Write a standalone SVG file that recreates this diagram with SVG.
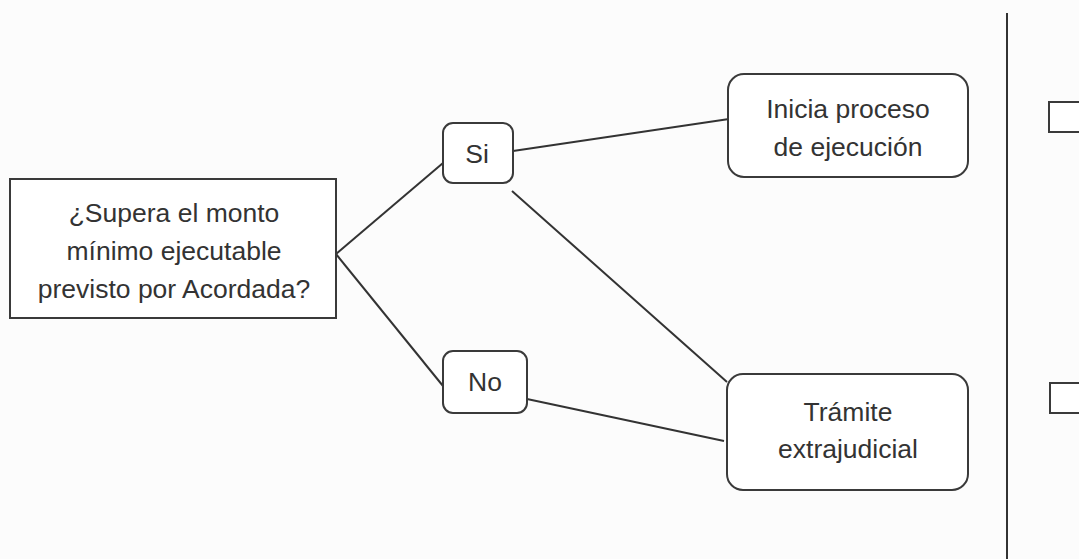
<svg xmlns="http://www.w3.org/2000/svg" width="1079" height="559" viewBox="0 0 1079 559">
<style>
.box{fill:#fff;stroke:#3a3a3a;stroke-width:2}
.ln{stroke:#333;stroke-width:2;fill:none}
.t{font-family:"Liberation Sans",Arial,sans-serif;fill:#333;text-anchor:middle}
.big{font-size:26.5px}
</style>
<rect width="1079" height="559" fill="#fcfcfc"/>
<g id="connectors">
<line class="ln" x1="336" y1="254" x2="443" y2="163"/>
<line class="ln" x1="336" y1="254" x2="443" y2="386"/>
<line class="ln" x1="513" y1="151" x2="729" y2="119"/>
<line class="ln" x1="512" y1="191" x2="727" y2="382"/>
<line class="ln" x1="527" y1="399" x2="724" y2="441"/>
</g>
<g id="n-pregunta">
<rect class="box" x="10" y="179" width="326" height="139"/>
<text class="t big" x="174" y="222">¿Supera el monto</text>
<text class="t big" x="174" y="260">mínimo ejecutable</text>
<text class="t big" x="174" y="298">previsto por Acordada?</text>
</g>
<g id="n-si">
<rect class="box" x="443" y="123" width="70" height="60" rx="10"/>
<text class="t big" x="477" y="163">Si</text>
</g>
<g id="n-no">
<rect class="box" x="443" y="351" width="84" height="62" rx="10"/>
<text class="t big" x="485" y="391">No</text>
</g>
<g id="n-inicia">
<rect class="box" x="728" y="74" width="240" height="103" rx="16"/>
<text class="t big" x="848" y="118">Inicia proceso</text>
<text class="t big" x="848" y="156">de ejecución</text>
</g>
<g id="n-tramite">
<rect class="box" x="727" y="374" width="241" height="116" rx="16"/>
<text class="t big" x="848" y="421">Trámite</text>
<text class="t big" x="848" y="458">extrajudicial</text>
</g>
<g id="side">
<line class="ln" x1="1007" y1="13" x2="1007" y2="559" stroke="#555" stroke-width="1.5"/>
<rect class="box" x="1049" y="102" width="50" height="30"/>
<rect class="box" x="1050" y="383" width="50" height="30"/>
</g>
</svg>
